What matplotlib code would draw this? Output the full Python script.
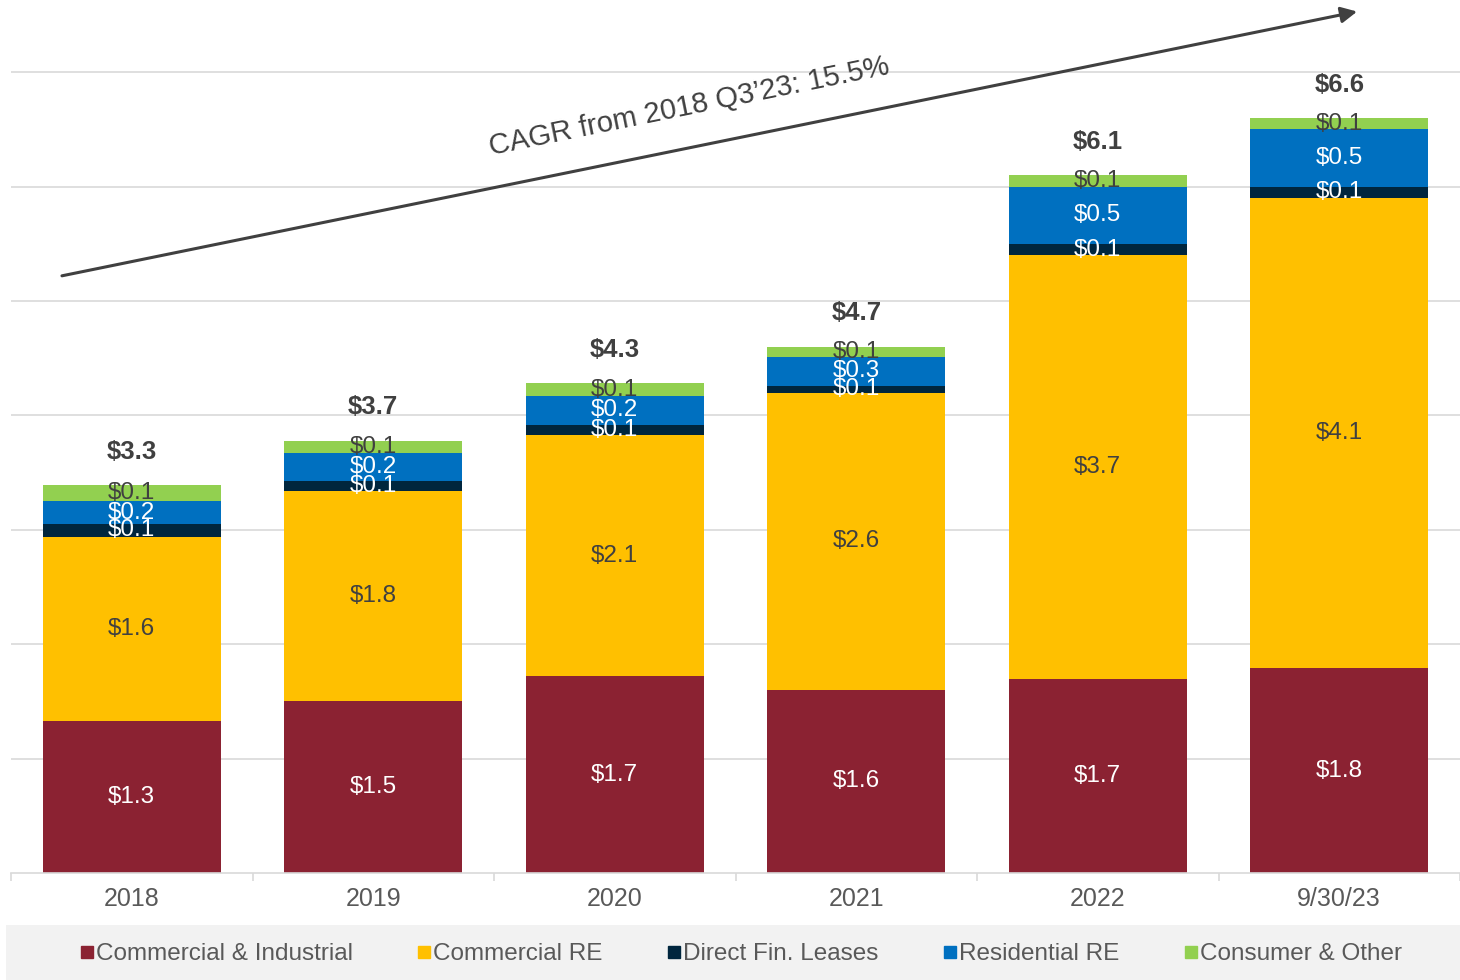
"""Stacked loan portfolio bars by category, 2018 through 9/30/23."""

import matplotlib

matplotlib.use("Agg")

import matplotlib.pyplot as plt
from matplotlib.lines import Line2D
from matplotlib.patches import Rectangle

plt.rcParams["font.family"] = ["Liberation Sans", "DejaVu Sans"]

years = ["2018", "2019", "2020", "2021", "2022", "9/30/23"]
series_names = [
    "Commercial & Industrial",
    "Commercial RE",
    "Direct Fin. Leases",
    "Residential RE",
    "Consumer & Other",
]
commercial_industrial = [1.33, 1.50, 1.72, 1.60, 1.70, 1.79]
commercial_re = [1.61, 1.84, 2.11, 2.60, 3.70, 4.11]
direct_fin_leases = [0.11, 0.09, 0.09, 0.06, 0.10, 0.10]
residential_re = [0.20, 0.24, 0.25, 0.25, 0.50, 0.50]
consumer_other = [0.14, 0.11, 0.11, 0.09, 0.10, 0.10]
segment_labels = [
    ["$1.3", "$1.5", "$1.7", "$1.6", "$1.7", "$1.8"],
    ["$1.6", "$1.8", "$2.1", "$2.6", "$3.7", "$4.1"],
    ["$0.1", "$0.1", "$0.1", "$0.1", "$0.1", "$0.1"],
    ["$0.2", "$0.2", "$0.2", "$0.3", "$0.5", "$0.5"],
    ["$0.1", "$0.1", "$0.1", "$0.1", "$0.1", "$0.1"],
]
total_labels = ["$3.3", "$3.7", "$4.3", "$4.7", "$6.1", "$6.6"]
cagr_text = "CAGR from 2018 Q3\u201923: 15.5%"

colors = ["#8B2232", "#FFC000", "#00263E", "#0070C0", "#92D050"]
label_colors = ["white", "#404040", "white", "white", "#404040"]
dark = "#404040"
grid_c = "#D9D9D9"


def main() -> None:
    fig = plt.figure(figsize=(14.6, 9.8), dpi=100)
    fig.patches.append(
        Rectangle((6 / 1460, 0), 1, 55 / 980, transform=fig.transFigure,
                  facecolor="#F2F2F2", edgecolor="none", zorder=0)
    )
    ax = fig.add_axes([11 / 1460, 107 / 980, 1449 / 1460, 873 / 980])

    values = [commercial_industrial, commercial_re, direct_fin_leases,
              residential_re, consumer_other]
    x = list(range(len(years)))
    bottom = [0.0] * len(years)
    for vals, col, lcol, labs in zip(values, colors, label_colors, segment_labels):
        ax.bar(x, vals, bottom=bottom, width=0.735, color=col, zorder=2)
        for i, (v, b, lab) in enumerate(zip(vals, bottom, labs)):
            ax.text(i, b + v / 2, lab, ha="center", va="center",
                    color=lcol, fontsize=17.5, zorder=3)
        bottom = [b + v for b, v in zip(bottom, vals)]

    for i, (top, lab) in enumerate(zip(bottom, total_labels)):
        ax.annotate(lab, (i, top), xytext=(0, 24), textcoords="offset points",
                    ha="center", va="center", fontsize=18.5, fontweight="bold",
                    color=dark)

    ax.annotate("", xy=(5.074, 7.53), xytext=(-0.289, 5.22),
                arrowprops=dict(arrowstyle="-|>", color=dark, lw=2.2,
                                mutation_scale=24, shrinkA=0, shrinkB=0),
                annotation_clip=False)
    ax.text(2.31, 6.70, cagr_text, ha="center", va="center", fontsize=21,
            color=dark, rotation=11.5, rotation_mode="anchor")

    ax.set_xlim(-0.5, 5.488)
    ax.set_ylim(0, 7.631)
    ax.set_yticks(range(1, 8))
    ax.yaxis.grid(True, color=grid_c, lw=1.2, zorder=0)
    ax.set_axisbelow(True)
    ax.tick_params(axis="y", left=False, labelleft=False)
    ax.set_xticks(x)
    ax.set_xticklabels(years)
    ax.set_xticks([i - 0.5 for i in range(len(years) + 1)], minor=True)
    ax.tick_params(axis="x", which="major", length=0, pad=10,
                   labelsize=18, labelcolor="#595959")
    ax.tick_params(axis="x", which="minor", length=6, color=grid_c, width=1.2)
    for side in ("top", "right", "left"):
        ax.spines[side].set_visible(False)
    ax.spines["bottom"].set_color(grid_c)
    ax.spines["bottom"].set_linewidth(1.2)

    handles = [Line2D([], [], marker="s", linestyle="none", markersize=8,
                      markerfacecolor=c, markeredgecolor=c) for c in colors]
    fig.legend(handles, series_names, loc="center", ncol=5,
               bbox_to_anchor=(0.507, 26 / 980), frameon=False,
               fontsize=17.5, labelcolor="#595959", handletextpad=0.02,
               columnspacing=2.6, handlelength=0.7)

    fig.savefig("out.png")


if __name__ == "__main__":
    main()
